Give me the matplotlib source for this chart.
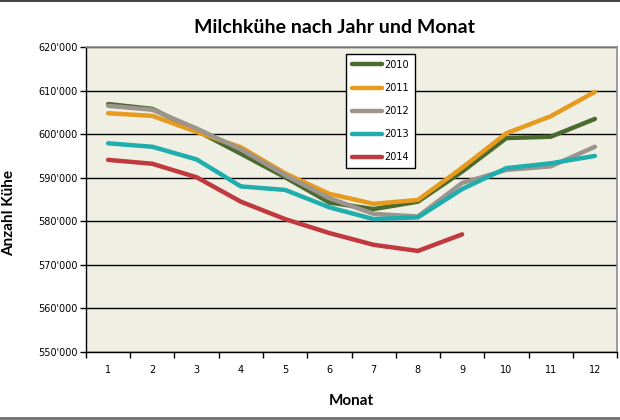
import matplotlib
matplotlib.use("Agg")
import matplotlib.pyplot as plt
from matplotlib.lines import Line2D
from matplotlib.ticker import FuncFormatter

# Milchkühe (Anzahl) je Monat
months = list(range(1, 13))
cows_2010 = [606900, 605800, 600800, 595500, 590100, 584300, 582800, 584500, 591400, 599100, 599400, 603500]
cows_2011 = [604800, 604200, 600500, 597000, 591000, 586300, 584000, 584900, 592300, 600200, 604100, 609700]
cows_2012 = [606500, 605600, 601300, 596500, 590600, 585300, 581700, 581100, 588800, 591800, 592600, 597100]
cows_2013 = [597900, 597100, 594200, 588000, 587200, 583200, 580500, 580900, 587400, 592200, 593300, 595000]
cows_2014 = [594100, 593200, 590100, 584500, 580500, 577300, 574600, 573200, 577000]

series = [
    ("2010", cows_2010, "#4b6b2e"),
    ("2011", cows_2011, "#e69a1e"),
    ("2012", cows_2012, "#9c948e"),
    ("2013", cows_2013, "#1fadad"),
    ("2014", cows_2014, "#c0393f"),
]

fig = plt.figure(figsize=(6.2, 4.2), dpi=100)
# frame lines of the chart object (top dark, bottom grey)
fig.lines.append(Line2D([0, 1], [0.998, 0.998], transform=fig.transFigure, color="#202020", linewidth=1.2))
fig.lines.append(Line2D([0, 1], [0.004, 0.004], transform=fig.transFigure, color="#707070", linewidth=2.0))

ax = fig.add_axes([0.1387, 0.1619, 0.8565, 0.7262])
ax.set_facecolor("#f0efe4")

for label, vals, color in series:
    ax.plot(months[:len(vals)], vals, color=color, linewidth=3.2, label=label,
            solid_capstyle="round", solid_joinstyle="round", zorder=3)

ax.set_xlim(0.5, 12.5)
ax.set_ylim(550000, 620000)
ax.set_yticks(range(550000, 620001, 10000))
ax.yaxis.set_major_formatter(FuncFormatter(lambda v, p: f"{int(v):,}".replace(",", "'")))
ax.grid(axis="y", color="black", linewidth=1.0, zorder=1)
ax.set_axisbelow(True)

# category axis: ticks between categories, labels centred
ax.set_xticks([m + 0.5 for m in months[:-1]] + [0.5, 12.5])
ax.set_xticklabels([])
ax.set_xticks(months, minor=True)
ax.set_xticklabels([str(m) for m in months], minor=True, fontsize=7, family="DejaVu Sans")
ax.tick_params(axis="x", which="minor", length=0, pad=9)
ax.tick_params(axis="x", which="major", length=4, width=1, direction="out")
ax.tick_params(axis="y", length=4, width=1, direction="out", labelsize=7, pad=2)

for side in ("top", "right"):
    ax.spines[side].set_color("#8c8c8c")
    ax.spines[side].set_linewidth(1.2)
for side in ("left", "bottom"):
    ax.spines[side].set_color("black")
    ax.spines[side].set_linewidth(1.0)

fig.text(0.54, 0.935, "Milchkühe nach Jahr und Monat", ha="center", va="center",
         fontsize=14, fontweight="bold", family="Lato")
ax.set_xlabel("Monat", fontsize=11, fontweight="bold", family="Lato", labelpad=14)
fig.text(9 / 620, 1 - 213 / 420, "Anzahl Kühe", rotation=90, ha="center", va="center",
         fontsize=11, fontweight="bold", family="Lato")

leg = ax.legend(loc="upper left", bbox_to_anchor=(346 / 620, 1 - 54 / 420),
                bbox_transform=fig.transFigure, fontsize=7, frameon=True, fancybox=False,
                edgecolor="black", handlelength=3.1, handletextpad=0.2,
                labelspacing=1.35, borderpad=0.6, borderaxespad=0)
leg.get_frame().set_linewidth(1.0)
leg.get_frame().set_facecolor("white")
leg.get_frame().set_alpha(1)

fig.savefig("out.png", dpi=100)
